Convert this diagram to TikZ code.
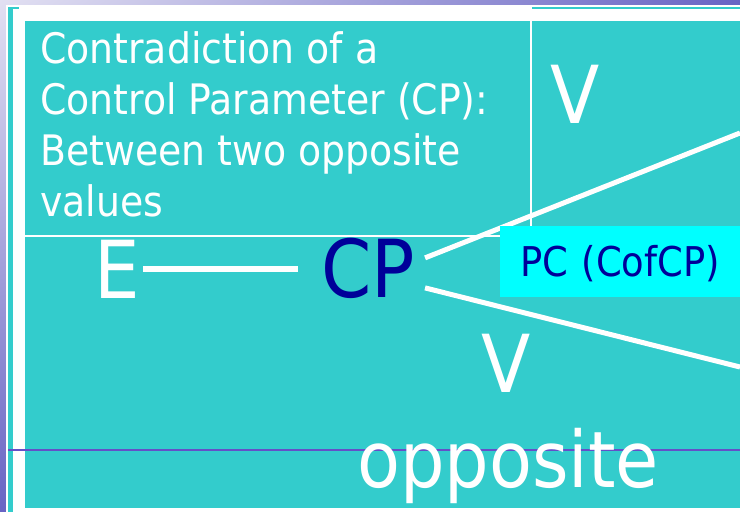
\documentclass[tikz,border=0pt]{standalone}
\usepackage{fontspec}
\setmainfont{DejaVu Sans Condensed}
\usepackage{tikz}
\usetikzlibrary{positioning,calc,shadings}
\definecolor{slideTeal}{RGB}{51,204,204}
\definecolor{slideCyan}{RGB}{0,255,255}
\definecolor{darkNavy}{RGB}{0,0,153}
\definecolor{lavLight}{RGB}{226,224,242}
\definecolor{lavDark}{RGB}{104,100,196}
\definecolor{rulePurple}{RGB}{100,80,200}

\begin{document}
\begin{tikzpicture}[x=1pt, y=-1pt,
    bigword/.style={anchor=base west, inner sep=0pt, text=white, font=\fontsize{80}{96}\selectfont},
    divider/.style={draw=white, line width=2pt},
    bar/.style={draw=white, line width=5pt}
  ]
    \useasboundingbox (0,0) rectangle (740,512);
    \clip (0,0) rectangle (740,512);
    \shade[upper left=lavLight, upper right=lavDark, lower left=lavDark, lower right=lavDark] (0,0) rectangle (740,512);
    \fill[white] (6,5) rectangle (740,512);
    \fill[slideTeal] (8,7) rectangle (13,512);
    \fill[slideTeal] (8,7) rectangle (19,9);
    \fill[slideTeal] (532,7) rectangle (740,9);
    \fill[slideTeal] (25,21) rectangle (740,508);

    \node[anchor=base west, inner sep=0pt, text=white, align=left, font=\fontsize{42}{51}\selectfont] (title) at (40,216) {Contradiction of a\\Control Parameter (CP):\\Between two opposite\\values};
    \coordinate (boxcorner) at (531,236);
    \draw[divider] (25,236) -- (boxcorner) -- (531,21);

    \node[bigword] (E) at (94,298) {E};
    \node[bigword, text=darkNavy] (CP) at (321,297) {CP};
    \coordinate (vtop) at (740,133);
    \coordinate (vbot) at (740,367);

    \draw[bar, line width=6pt, shorten <=3pt, shorten >=23pt] (E.east) -- (E.east -| CP.west);
    \draw[bar] ([xshift=10pt, yshift=10pt]CP.east) -- (vtop);
    \draw[bar] ([xshift=10pt, yshift=-20pt]CP.east) -- (vbot);

    \node[fill=slideCyan, text=darkNavy, anchor=north west, minimum height=71pt, text width=220pt, align=left, inner xsep=20pt, text height=30pt, text depth=0pt, font=\fontsize{41}{49}\selectfont] (pc) at (500,226) {PC (CofCP)};

    \node[bigword] (Vup) at (550,123) {V};
    \node[bigword] (Vdown) at (481,392) {V};
    \draw[rulePurple, line width=1.2pt] (8,450) -- (740,450);
    \node[bigword, font=\fontsize{78}{94}\selectfont] (opp) at (357,487) {opposite};
\end{tikzpicture}
\end{document}
